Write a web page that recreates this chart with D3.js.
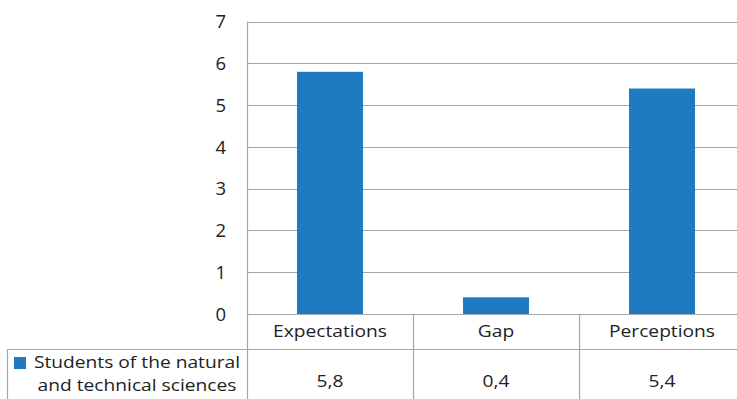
<!DOCTYPE html>
<html>
<head>
<meta charset="utf-8">
<script src="https://cdn.jsdelivr.net/npm/d3@7"></script>
<style>
  html, body { margin: 0; padding: 0; background: #fff; }
  svg { display: block; font-family: "Open Sans", "Noto Sans", sans-serif; }
</style>
</head>
<body>
<svg id="chart" width="737" height="399"></svg>
<script>
// Chart data
const categories = ["Expectations", "Gap", "Perceptions"];
const seriesName = ["Students of the natural", "and technical sciences"];
const values = [5.8, 0.4, 5.4];
const valueLabels = ["5,8", "0,4", "5,4"];
const yTicks = [0, 1, 2, 3, 4, 5, 6, 7];

const svg = d3.select("#chart");
const barColor = "#1f7bc1";
const gridColor = "#a6a6a6";
const textColor = "#222";
const tickFont = 18.5;
const tableFont = 16;
const tableStretch = 1.2;   // table text is set slightly wide

const plot = { left: 247, right: 745, top: 21.7, bottom: 314 };
const table = { left: 7, rowTop: 349.5, bottom: 410 };

const x = d3.scaleBand()
  .domain(categories)
  .range([plot.left, plot.right])
  .paddingInner(0).paddingOuter(0);

const y = d3.scaleLinear()
  .domain([0, 7])
  .range([plot.bottom, plot.top]);

// Horizontal gridlines
svg.append("g")
  .selectAll("line")
  .data(yTicks)
  .join("line")
  .attr("x1", plot.left).attr("x2", plot.right)
  .attr("y1", d => Math.round(y(d)) + 0.5)
  .attr("y2", d => Math.round(y(d)) + 0.5)
  .attr("stroke", gridColor).attr("stroke-width", 1.2);

// Y-axis labels
svg.append("g")
  .selectAll("text")
  .data(yTicks)
  .join("text")
  .attr("x", 226)
  .attr("y", d => y(d))
  .attr("dy", "0.36em")
  .attr("text-anchor", "end")
  .attr("font-size", tickFont)
  .attr("fill", textColor)
  .text(d => d);

// Bars
const barW = 66;
svg.append("g")
  .selectAll("rect")
  .data(categories)
  .join("rect")
  .attr("x", d => x(d) + x.bandwidth() / 2 - barW / 2)
  .attr("width", barW)
  .attr("y", (d, i) => y(values[i]))
  .attr("height", (d, i) => y(0) - y(values[i]))
  .attr("fill", barColor);

// Data table grid
const tg = svg.append("g").attr("stroke", gridColor).attr("stroke-width", 1.2);
tg.append("line")
  .attr("x1", plot.left + 0.5).attr("x2", plot.left + 0.5)
  .attr("y1", plot.top).attr("y2", table.bottom);
categories.slice(1).forEach(c => {
  tg.append("line")
    .attr("x1", Math.round(x(c)) + 0.5).attr("x2", Math.round(x(c)) + 0.5)
    .attr("y1", plot.bottom).attr("y2", table.bottom);
});
tg.append("line")
  .attr("x1", table.left).attr("x2", plot.right)
  .attr("y1", table.rowTop).attr("y2", table.rowTop);
tg.append("line")
  .attr("x1", table.left + 0.5).attr("x2", table.left + 0.5)
  .attr("y1", table.rowTop).attr("y2", table.bottom);

// Centered, horizontally widened table text
function tableText(g, cx, cy, str) {
  g.append("text")
    .attr("transform", `translate(${cx},${cy}) scale(${tableStretch},1)`)
    .attr("dy", "0.36em")
    .attr("text-anchor", "middle")
    .attr("font-size", tableFont)
    .attr("fill", textColor)
    .text(str);
}

// Category labels
const catG = svg.append("g");
categories.forEach(c => tableText(catG, x(c) + x.bandwidth() / 2, 331, c));

// Value labels
const valG = svg.append("g");
categories.forEach((c, i) => tableText(valG, x(c) + x.bandwidth() / 2, 381, valueLabels[i]));

// Legend key and series name
svg.append("rect")
  .attr("x", 14).attr("y", 357)
  .attr("width", 12).attr("height", 12)
  .attr("fill", barColor);

const legG = svg.append("g");
seriesName.forEach((s, i) => tableText(legG, 137, 362.5 + i * 22.5, s));
</script>
</body>
</html>
